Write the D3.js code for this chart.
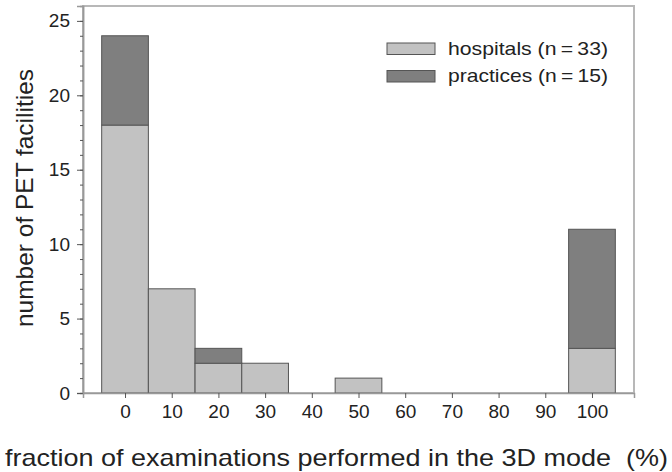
<!DOCTYPE html>
<html>
<head>
<meta charset="utf-8">
<script src="https://cdn.jsdelivr.net/npm/d3@7"></script>
<style>
  html, body { margin: 0; padding: 0; background: #fff; }
  svg { display: block; font-family: "Liberation Sans", Arial, Helvetica, sans-serif; }
</style>
</head>
<body>
<svg id="chart" width="672" height="472"></svg>
<script>
// ---- data ----
const categories = [0, 10, 20, 30, 40, 50, 60, 70, 80, 90, 100];
const hospitals  = [18, 7, 2, 2, 0, 1, 0, 0, 0, 0, 3];
const practices  = [6, 0, 1, 0, 0, 0, 0, 0, 0, 0, 8];
const seriesNames = ["hospitals (n\u2009=\u200933)", "practices (n\u2009=\u200915)"];
const yTicks = [0, 5, 10, 15, 20, 25];
const xTicks = [0, 10, 20, 30, 40, 50, 60, 70, 80, 90, 100];

// ---- layout ----
const svg = d3.select("#chart");
const pLeft = 83, pRight = 634, pTop = 6, pBottom = 393;
const x = d3.scaleLinear().domain([-9, 109]).range([pLeft, pRight]);
const y = d3.scaleLinear().domain([0, 26]).range([pBottom, pTop]);
const colors = ["#c2c2c2", "#7f7f7f"];

const rows = categories.map((c, i) => ({ cat: c, hospitals: hospitals[i], practices: practices[i] }));
const stack = d3.stack().keys(["hospitals", "practices"])(rows);

// frame
svg.append("rect").attr("x", pLeft).attr("y", pTop)
  .attr("width", pRight - pLeft).attr("height", pBottom - pTop)
  .attr("fill", "none").attr("stroke", "#b8b8b8").attr("stroke-width", 2);

// bars
stack.forEach((layer, k) => {
  svg.append("g").selectAll("rect")
    .data(layer.filter(d => d[1] - d[0] > 0))
    .join("rect")
    .attr("x", d => x(d.data.cat - 5))
    .attr("width", d => x(d.data.cat + 5) - x(d.data.cat - 5))
    .attr("y", d => y(d[1]))
    .attr("height", d => y(d[0]) - y(d[1]))
    .attr("fill", colors[k])
    .attr("stroke", "#555")
    .attr("stroke-width", 1);
});

// axes
const yAxis = svg.append("g").attr("transform", `translate(${pLeft},0)`)
  .call(d3.axisLeft(y).tickValues(yTicks).tickSize(6).tickPadding(5).tickFormat(d3.format("d")));
const yMinor = svg.append("g").attr("transform", `translate(${pLeft},0)`)
  .call(d3.axisLeft(y).tickValues(d3.range(0, 26)).tickSize(3).tickFormat(""));
const xAxis = svg.append("g").attr("transform", `translate(0,${pBottom})`)
  .call(d3.axisBottom(x).tickValues(xTicks).tickSize(5).tickPadding(7).tickFormat(d3.format("d")));

[yAxis, yMinor, xAxis].forEach(g => {
  g.select(".domain").attr("stroke", "#999").attr("stroke-width", 1.5);
  g.selectAll(".tick line").attr("stroke", "#555");
  g.selectAll("text").attr("font-size", 19).attr("fill", "#222")
    .attr("font-family", "'Liberation Sans', Arial, sans-serif");
});
yAxis.selectAll("text").attr("dx", -2);

// axis titles
svg.append("text")
  .attr("x", 5).attr("y", 466)
  .attr("font-size", 24).attr("fill", "#222")
  .attr("textLength", 663).attr("lengthAdjust", "spacingAndGlyphs")
  .text("fraction of examinations performed in the 3D mode\u00a0\u00a0(%)");

svg.append("text")
  .attr("transform", "translate(33,198) rotate(-90)")
  .attr("text-anchor", "middle")
  .attr("font-size", 24).attr("fill", "#222")
  .attr("textLength", 258).attr("lengthAdjust", "spacingAndGlyphs")
  .text("number of PET facilities");

// legend
const legend = svg.append("g");
seriesNames.forEach((name, i) => {
  const gy = 43 + i * 27.5;
  legend.append("rect").attr("x", 387).attr("y", gy).attr("width", 48).attr("height", 11.5)
    .attr("fill", colors[i]).attr("stroke", "#555").attr("stroke-width", 1);
  legend.append("text").attr("x", 448).attr("y", gy + 11.5)
    .attr("font-size", 19).attr("fill", "#222")
    .attr("textLength", 160).attr("lengthAdjust", "spacingAndGlyphs")
    .text(name);
});
</script>
</body>
</html>
